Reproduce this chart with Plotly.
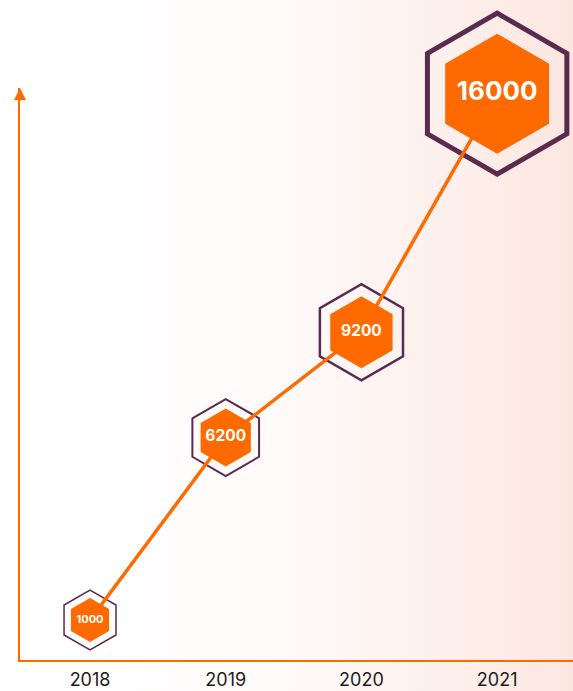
import base64
import plotly.graph_objects as go

# ---- data ----
years = ["2018", "2019", "2020", "2021"]
values = [1000, 6200, 9200, 16000]
labels = ["1000", "6200", "9200", "16000"]

# ---- styles ----
ORANGE = "#ff6a00"
PURPLE = "#5a2a4f"
outer_sizes = [60, 77, 96, 161]
outer_widths = [1.5, 2, 2.5, 5]
inner_sizes = [44, 58, 72, 120]
text_sizes = [11, 15.5, 15.5, 26]

W, H = 573, 691
ML, MR, MT, MB = 20, 0, 88, 31
pw, ph = W - ML - MR, H - MT - MB

svg = (
    '<svg xmlns="http://www.w3.org/2000/svg" width="573" height="691" preserveAspectRatio="none">'
    '<defs><linearGradient id="g" x1="0" y1="0" x2="1" y2="0">'
    '<stop offset="0" stop-color="#ffffff"/>'
    '<stop offset="0.15" stop-color="#ffffff"/>'
    '<stop offset="0.5" stop-color="#fefaf9"/>'
    '<stop offset="0.75" stop-color="#fdf1ed"/>'
    '<stop offset="1" stop-color="#fce6e0"/>'
    '</linearGradient></defs>'
    '<rect width="573" height="691" fill="url(#g)"/></svg>'
)
bg_src = "data:image/svg+xml;base64," + base64.b64encode(svg.encode()).decode()

fig = go.Figure()

# outer hexagon outlines
fig.add_trace(go.Scatter(
    x=years, y=values, mode="markers",
    marker=dict(symbol="hexagon", size=outer_sizes, color="rgba(0,0,0,0)",
                opacity=1, line=dict(color=PURPLE, width=outer_widths)),
    cliponaxis=False, hoverinfo="skip", showlegend=False,
))

# connecting line
fig.add_trace(go.Scatter(
    x=years, y=values, mode="lines",
    line=dict(color=ORANGE, width=3.5),
    cliponaxis=False, hoverinfo="skip", showlegend=False,
))

# inner filled hexagons with labels
fig.add_trace(go.Scatter(
    x=years, y=values, mode="markers+text",
    marker=dict(symbol="hexagon", size=inner_sizes, color=ORANGE,
                opacity=1, line=dict(width=0)),
    text=labels, textposition="middle center",
    textfont=dict(family="Inter", size=text_sizes, color="white", weight="bold"),
    cliponaxis=False, showlegend=False,
))

fig.update_layout(
    width=W, height=H,
    margin=dict(l=ML, r=MR, t=MT, b=MB, pad=0, autoexpand=False),
    paper_bgcolor="white",
    plot_bgcolor="rgba(0,0,0,0)",
    showlegend=False,
    images=[dict(
        source=bg_src, xref="paper", yref="paper",
        x=-ML / pw, y=1 + MT / ph, sizex=W / pw, sizey=H / ph,
        xanchor="left", yanchor="top", sizing="stretch", layer="below",
    )],
    xaxis=dict(
        type="category", categoryorder="array", categoryarray=years,
        range=[-0.516, 3.559], automargin=False,
        showline=True, linecolor=ORANGE, linewidth=2,
        showgrid=False, zeroline=False,
        ticks="", ticklabelstandoff=2,
        tickfont=dict(family="Inter", size=18, color="#1c1c1c"),
    ),
    yaxis=dict(
        range=[-140, 16162], automargin=False,
        showline=True, linecolor=ORANGE, linewidth=2,
        showgrid=False, zeroline=False, showticklabels=False, ticks="",
    ),
    annotations=[dict(
        xref="paper", yref="paper", x=0, y=1, text="",
        showarrow=True, arrowhead=2, arrowsize=1.2, arrowwidth=2,
        arrowcolor=ORANGE, ax=0, ay=14, standoff=0,
    )],
)

fig.write_html(
    "out.html",
    config={"displayModeBar": False},
    post_script="document.body.style.margin='0';document.body.style.overflow='hidden';",
)
